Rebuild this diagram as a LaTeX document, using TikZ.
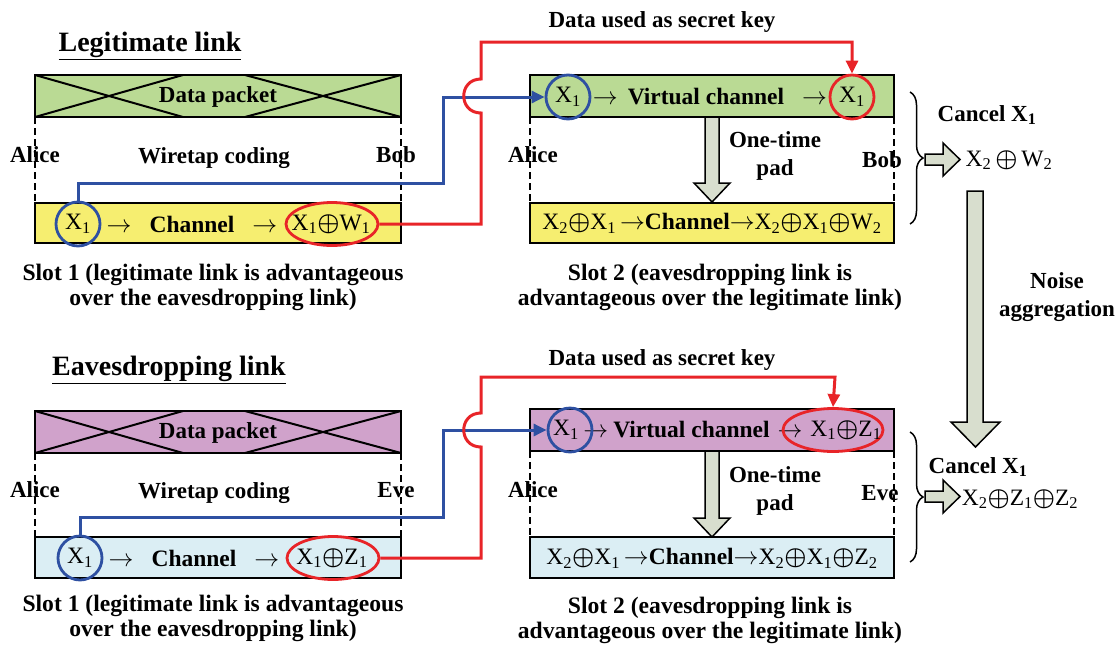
\documentclass[tikz,border=0pt]{standalone}
\usepackage{fontspec}
\setmainfont{Liberation Serif}
\usetikzlibrary{arrows.meta,decorations.pathreplacing,shapes.geometric}

\definecolor{pktgreen}{RGB}{186,218,148}
\definecolor{rowyellow}{RGB}{246,238,112}
\definecolor{pktpurple}{RGB}{208,162,203}
\definecolor{rowblue}{RGB}{219,238,244}
\definecolor{padgrey}{RGB}{216,222,206}
\definecolor{wireblue}{RGB}{46,80,162}
\definecolor{wirered}{RGB}{232,36,40}

% subscripted symbol and the xor sign
\newcommand{\xs}[2]{#1\textsubscript{#2}}
\newcommand{\opl}{{\boldmath$\oplus$}}

\begin{document}
\begin{tikzpicture}[x=1pt,y=-1pt,
  lbl/.style={font=\fontsize{23}{26}\selectfont\bfseries, inner sep=0pt},
  slotcap/.style={font=\fontsize{23.6}{25}\selectfont\bfseries, inner sep=0pt, align=center},
  ttl/.style={font=\fontsize{28}{30}\selectfont\bfseries, inner sep=0pt},
  sym/.style={font=\fontsize{23.5}{26}\selectfont, inner sep=0pt},
  boxline/.style={draw=black, line width=2pt},
  guide/.style={draw=black, dash pattern=on 7pt off 4pt, line width=1.5pt},
  ring/.style={circle, line width=2.8pt, minimum size=44pt, inner sep=0pt,
               font=\fontsize{23.5}{26}\selectfont},
  oval/.style={ellipse, line width=2.8pt, minimum width=92pt, minimum height=43pt,
               inner sep=0pt},
  bluewire/.style={draw=wireblue, line width=3pt},
  redwire/.style={draw=wirered, line width=3pt},
  headtip/.style={-{Triangle[length=13pt,width=12pt]}},
  padarrow/.style={fill=padgrey, draw=black, line width=1.5pt},
  curly/.style={draw=black, line width=1.5pt, decorate,
                decoration={brace, amplitude=13pt}}
]
\useasboundingbox (0,0) rectangle (1120,646);

% ---------------- Legitimate link, slot 1 ----------------
\node[ttl] (ttlA) at (150,46) {\underline{Legitimate link}};
\draw[boxline, fill=pktgreen] (35,75) rectangle (401,117);
\draw[boxline] (35,75) -- (183,117) (35,117) -- (183,75)
           (245,75) -- (401,117) (245,117) -- (401,75);
\node[lbl] (pktA) at (218,97) {Data packet};
\draw[guide] (35,117) -- (35,203) (401,117) -- (401,203);
\node[lbl] (aliceA) at (35,155) {Alice};
\node[lbl] (bobA) at (396,155) {Bob};
\node[lbl] (wtA) at (214,158) {Wiretap coding};
\draw[boxline, fill=rowyellow] (35,203) rectangle (401,243);
\node[sym] (chA) at (192,224) {$\rightarrow$\hspace{18pt}{\bfseries Channel}\hspace{18pt}$\rightarrow$};
\node[ring, draw=wireblue] (xA) at (78,224) {\xs{X}{1}};
\node[oval, draw=wirered] (eA) at (332,224) {};
\node[sym] (eAt) at (331,224) {\xs{X}{1}\opl\xs{W}{1}};
\node[slotcap] (slotA) at (213,287) {Slot 1 (legitimate link is advantageous\\over the eavesdropping link)};

% ---------------- Legitimate link, slot 2 ----------------
\node[lbl] (keyA) at (662,22) {Data used as secret key};
\draw[boxline, fill=pktgreen] (530,75) rectangle (894,117);
\node[sym] (vcA) at (710,97) {$\rightarrow$\hspace{10pt}{\bfseries Virtual channel}\hspace{18pt}$\rightarrow$};
\node[ring, draw=wireblue] (xB) at (568,97) {\xs{X}{1}};
\node[ring, draw=wirered] (xC) at (852,97) {\xs{X}{1}};
\draw[guide] (530,117) -- (530,203) (894,117) -- (894,203);
\node[lbl] (aliceB) at (533,155) {Alice};
\node[lbl] (bobB) at (882,160) {Bob};
\draw[padarrow] (705,117) -- (719,117) -- (719,183) -- (730,183) -- (712,202)
             -- (694,183) -- (705,183) -- cycle;
\node[lbl, align=center, font=\fontsize{23}{28}\selectfont\bfseries] (otpA) at (775,156) {One-time\\pad};
\draw[boxline, fill=rowyellow] (530,203) rectangle (894,243);
\node[sym] (rowB) at (712,223) {\xs{X}{2}\opl\xs{X}{1}\,$\rightarrow${\bfseries Channel}$\rightarrow$\xs{X}{2}\opl\xs{X}{1}\opl\xs{W}{2}};
\node[slotcap] (slotB) at (710,287) {Slot 2 (eavesdropping link is\\advantageous over the legitimate link)};

% wires between the slots
\draw[bluewire, headtip] (xA.north) |- (443,183) -- (443,97) -- (xB.west);
\draw[redwire, headtip] (eA.east) -| (481,113)
      .. controls (458,113) and (458,79) .. (481,79)
      -- (481,42) -- (852,42) -- (xC.north);

% ---------------- Eavesdropping link, slot 1 ----------------
\node[ttl] (ttlE) at (169,370) {\underline{Eavesdropping link}};
\draw[boxline, fill=pktpurple] (35,411) rectangle (401,453);
\draw[boxline] (35,411) -- (183,453) (35,453) -- (183,411)
           (245,411) -- (401,453) (245,453) -- (401,411);
\node[lbl] (pktE) at (218,433) {Data packet};
\draw[guide] (35,453) -- (35,537) (401,453) -- (401,537);
\node[lbl] (aliceE) at (35,490) {Alice};
\node[lbl] (eveE) at (396,490) {Eve};
\node[lbl] (wtE) at (214,493) {Wiretap coding};
\draw[boxline, fill=rowblue] (35,537) rectangle (401,578);
\node[sym] (chE) at (194,558) {$\rightarrow$\hspace{18pt}{\bfseries Channel}\hspace{18pt}$\rightarrow$};
\node[ring, draw=wireblue] (xE) at (80,558) {\xs{X}{1}};
\node[oval, draw=wirered] (eE) at (333,558) {};
\node[sym] (eEt) at (332,558) {\xs{X}{1}\opl\xs{Z}{1}};
\node[slotcap] (slotE) at (213,618) {Slot 1 (legitimate link is advantageous\\over the eavesdropping link)};

% ---------------- Eavesdropping link, slot 2 ----------------
\node[lbl] (keyE) at (662,360) {Data used as secret key};
\draw[boxline, fill=pktpurple] (530,409) rectangle (894,451);
\node[sym] (vcE) at (693,430) {$\rightarrow$\hspace{5pt}{\bfseries Virtual channel}\hspace{8pt}$\rightarrow$};
\node[ring, draw=wireblue] (xF) at (570,430) {};
\node[sym] (xFt) at (566,430) {\xs{X}{1}};
\node[oval, draw=wirered, minimum width=100pt] (eF) at (833,430) {};
\node[sym] (eFt) at (846,430) {\xs{X}{1}\opl\xs{Z}{1}};
\draw[guide] (530,451) -- (530,537) (894,451) -- (894,537);
\node[lbl] (aliceF) at (533,490) {Alice};
\node[lbl] (eveF) at (880,493) {Eve};
\draw[padarrow] (705,451) -- (719,451) -- (719,518) -- (730,518) -- (712,537)
             -- (694,518) -- (705,518) -- cycle;
\node[lbl, align=center, font=\fontsize{23}{28}\selectfont\bfseries] (otpE) at (775,491) {One-time\\pad};
\draw[boxline, fill=rowblue] (530,537) rectangle (894,578);
\node[sym] (rowF) at (712,558) {\xs{X}{2}\opl\xs{X}{1}\,$\rightarrow${\bfseries Channel}$\rightarrow$\xs{X}{2}\opl\xs{X}{1}\opl\xs{Z}{2}};
\node[slotcap] (slotF) at (710,620) {Slot 2 (eavesdropping link is\\advantageous over the legitimate link)};

\draw[bluewire, headtip] (xE.north) |- (443,517) -- (443,430) -- (xF.west);
\draw[redwire, headtip] (eE.east) -| (481,447)
      .. controls (458,447) and (458,413) .. (481,413)
      -- (481,377) -- (835,377) -- (eF.north);

% ---------------- cancelling X1 and noise aggregation ----------------
\draw[curly] (910,92) -- (910,224);
\draw[padarrow] (925,154) -- (943,154) -- (943,143) -- (960,159.5) -- (943,176)
             -- (943,165) -- (925,165) -- cycle;
\node[lbl] (cancelA) at (987,115) {Cancel \xs{X}{1}};
\node[sym] (resA) at (1009,160) {\xs{X}{2}\,\opl\,\xs{W}{2}};

\draw[padarrow] (967,191) -- (983,191) -- (983,422) -- (1000,422) -- (975.5,447)
             -- (951,422) -- (967,422) -- cycle;
\node[lbl, align=center, font=\fontsize{23}{28}\selectfont\bfseries] (noise) at (1057,297) {Noise\\aggregation};

\draw[curly] (910,432) -- (910,562);
\draw[padarrow] (925,491) -- (943,491) -- (943,480) -- (960,496.5) -- (943,513)
             -- (943,502) -- (925,502) -- cycle;
\node[lbl] (cancelE) at (978,467) {Cancel \xs{X}{1}};
\node[sym] (resE) at (1020,499) {\xs{X}{2}\opl\xs{Z}{1}\opl\xs{Z}{2}};
\end{tikzpicture}
\end{document}
